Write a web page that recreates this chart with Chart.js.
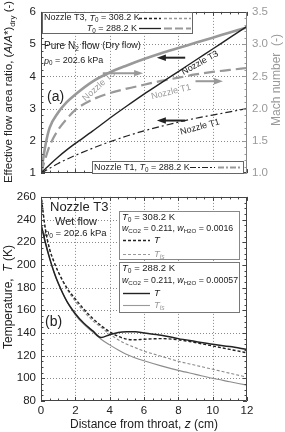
<!DOCTYPE html>
<html>
<head>
<meta charset="utf-8">
<script src="https://cdn.jsdelivr.net/npm/chart.js@4"></script>
<style>
  body { margin: 0; background: #fff; width: 285px; height: 432px; overflow: hidden; position: relative; }
  canvas { position: absolute; left: 0; }
</style>
</head>
<body>
<canvas id="chartA" width="285" height="185" style="top:0px"></canvas>
<canvas id="chartB" width="285" height="247" style="top:185px"></canvas>
<script>
/* ---------------- data: panel (a), dry flow ---------------- */
const zDry = [0, 0.25, 0.5, 1, 1.5, 2, 3, 4, 5, 6, 7, 8, 9, 10, 11, 12];
const areaT3 = [1, 1.13, 1.26, 1.5, 1.72, 1.92, 2.3, 2.7, 3.08, 3.45, 3.8, 4.15, 4.5, 4.85, 5.2, 5.55];
const areaT1 = [1, 1.07, 1.15, 1.3, 1.43, 1.55, 1.77, 1.97, 2.15, 2.31, 2.45, 2.58, 2.7, 2.8, 2.9, 3.0];
const machT3 = [1.0, 1.42, 1.7, 1.94, 2.1, 2.22, 2.42, 2.56, 2.67, 2.77, 2.86, 2.94, 3.02, 3.1, 3.18, 3.26];
const machT1 = [1.0, 1.22, 1.42, 1.67, 1.84, 1.98, 2.14, 2.24, 2.31, 2.37, 2.43, 2.48, 2.53, 2.57, 2.6, 2.63];

/* ---------------- data: panel (b), wet flow ---------------- */
const zWet = [0, 0.25, 0.5, 0.75, 1, 1.5, 2, 2.5, 3, 3.5, 4, 4.5, 5, 5.5, 6, 7, 8, 9, 10, 11, 12];
const T288 = [236, 220, 206, 194, 184, 168, 157, 148.5, 142, 136, 138.5, 140.5, 141, 141, 140, 138, 135, 132.5, 130, 128, 125.5];
const Tis288 = [236, 220, 206, 194, 184, 168, 156, 147.5, 141, 134.5, 129.5, 125, 121, 118, 115.5, 111, 107, 103.5, 100, 97, 94];
const T308 = [262, 232, 214, 203, 194, 180, 170, 161, 153, 146.5, 141, 137, 134.5, 134, 134.5, 135, 134, 131.5, 128.5, 125.5, 122.5];
const Tis308 = [262, 232, 214, 203, 194, 179, 168, 159, 151, 145, 139, 134, 130, 127, 124, 119.5, 115, 111.5, 108, 104.5, 101];

const FONT = '"Liberation Sans", Arial, sans-serif';
const INK = '#222';
const GREY = '#999';

function pts(xs, ys) {
  return xs.map((x, i) => ({ x: x, y: ys[i] }));
}

function line(label, xs, ys, color, width, dash, axis) {
  return {
    label: label,
    data: pts(xs, ys),
    borderColor: color,
    borderWidth: width,
    borderDash: dash,
    pointRadius: 0,
    cubicInterpolationMode: 'monotone',
    yAxisID: axis || 'y',
  };
}

/* ---------------- drawing helpers ---------------- */
// parts: [{t, i (italic), s (subscript), size}]
function rich(ctx, x, y, parts, o) {
  o = o || {};
  const size = o.size || 9;
  let w = 0;
  const segs = parts.map(p => {
    const base = p.size || size;
    const s = p.s ? base * 0.7 : base;
    const f = (p.i ? 'italic ' : '') + s + 'px ' + FONT;
    ctx.font = f;
    const ww = ctx.measureText(p.t).width;
    w += ww;
    return { p: p, f: f, ww: ww, base: base };
  });
  ctx.save();
  ctx.translate(x, y);
  if (o.angle) ctx.rotate(o.angle * Math.PI / 180);
  let cx = o.align === 'center' ? -w / 2 : o.align === 'right' ? -w : 0;
  ctx.fillStyle = o.color || INK;
  ctx.textBaseline = 'middle';
  segs.forEach(sg => {
    ctx.font = sg.f;
    ctx.fillText(sg.p.t, cx, sg.p.s ? sg.base * 0.3 : 0);
    cx += sg.ww;
  });
  ctx.restore();
}
const n = t => ({ t: t });
const it = t => ({ t: t, i: true });
const sb = t => ({ t: t, s: true });

function seg(ctx, x1, y1, x2, y2, color, width, dash) {
  ctx.save();
  ctx.strokeStyle = color;
  ctx.lineWidth = width;
  ctx.setLineDash(dash || []);
  ctx.beginPath();
  ctx.moveTo(x1, y1);
  ctx.lineTo(x2, y2);
  ctx.stroke();
  ctx.restore();
}

function arrow(ctx, x1, y, x2, color) {
  const dir = x2 > x1 ? 1 : -1;
  seg(ctx, x1, y, x2 - dir * 6, y, color, 2);
  ctx.save();
  ctx.fillStyle = color;
  ctx.beginPath();
  ctx.moveTo(x2, y);
  ctx.lineTo(x2 - dir * 9, y - 3.2);
  ctx.lineTo(x2 - dir * 9, y + 3.2);
  ctx.closePath();
  ctx.fill();
  ctx.restore();
}

function box(ctx, x, y, w, h, color) {
  ctx.save();
  ctx.fillStyle = '#fff';
  ctx.fillRect(x, y, w, h);
  ctx.strokeStyle = color;
  ctx.lineWidth = 1;
  ctx.strokeRect(x, y, w, h);
  ctx.restore();
}

// dotted grid, positioned by the chart scales
function grid(chart, xMajor, yMajor) {
  const ctx = chart.ctx;
  const a = chart.chartArea;
  const sx = chart.scales.x, sy = chart.scales.y;
  for (let v = sx.min + xMajor; v < sx.max - 1e-6; v += xMajor) {
    const p = Math.round(sx.getPixelForValue(v)) + 0.5;
    seg(ctx, p, a.top, p, a.bottom, '#8a8a8a', 1, [1, 2]);
  }
  for (let v = sy.min + yMajor; v < sy.max - 1e-6; v += yMajor) {
    const p = Math.round(sy.getPixelForValue(v)) + 0.5;
    seg(ctx, a.left, p, a.right, p, '#8a8a8a', 1, [1, 2]);
  }
}

// inward ticks and frame
function ticks(chart, xMajor, xMinor, yMajor, yMinor, right) {
  const ctx = chart.ctx;
  const a = chart.chartArea;
  const sx = chart.scales.x, sy = chart.scales.y;
  for (let v = sx.min; v <= sx.max + 1e-6; v += xMinor) {
    const p = Math.round(sx.getPixelForValue(v)) + 0.5;
    const major = Math.abs(v / xMajor - Math.round(v / xMajor)) < 1e-6;
    const L = major ? 4 : 2.5;
    seg(ctx, p, a.bottom, p, a.bottom - L, '#444', 1);
    seg(ctx, p, a.top, p, a.top + L, '#444', 1);
  }
  for (let v = sy.min; v <= sy.max + 1e-6; v += yMinor) {
    const p = Math.round(sy.getPixelForValue(v)) + 0.5;
    const major = Math.abs((v - sy.min) / yMajor - Math.round((v - sy.min) / yMajor)) < 1e-6;
    const L = major ? 4 : 2.5;
    seg(ctx, a.left, p, a.left + L, p, '#444', 1);
    if (!right) seg(ctx, a.right, p, a.right - L, p, '#444', 1);
  }
  if (right) {
    const s2 = chart.scales[right.id];
    for (let v = s2.min; v <= s2.max + 1e-6; v += right.minor) {
      const p = Math.round(s2.getPixelForValue(v)) + 0.5;
      const major = Math.abs((v - s2.min) / right.major - Math.round((v - s2.min) / right.major)) < 1e-6;
      seg(ctx, a.right, p, a.right - (major ? 4 : 2.5), p, GREY, 1);
    }
  }
  const l = Math.round(a.left) + 0.5, r = Math.round(a.right) - 0.5;
  const t = Math.round(a.top) + 0.5, b = Math.round(a.bottom) - 0.5;
  seg(ctx, l, t, r, t, '#444', 1);
  seg(ctx, l, b, r, b, '#444', 1);
  seg(ctx, l, t, l, b, '#444', 1);
  seg(ctx, r, t, r, b, right ? '#888' : '#444', 1);
}

/* ---------------- panel (a) ---------------- */
const panelA = {
  id: 'panelA',
  beforeDatasetsDraw(chart) {
    grid(chart, 2, 1);
  },
  afterDatasetsDraw(chart) {
    const ctx = chart.ctx;
    const sx = chart.scales.x, sy = chart.scales.y;
    ticks(chart, 2, 0.5, 1, 0.2, { id: 'y2', major: 0.5, minor: 0.1 });

    // arrows pointing to the axis each curve belongs to
    arrow(ctx, sx.getPixelForValue(8.4), sy.getPixelForValue(4.58), sx.getPixelForValue(6.75), INK);
    arrow(ctx, sx.getPixelForValue(3.6), sy.getPixelForValue(4.1), sx.getPixelForValue(5.95), GREY);
    arrow(ctx, sx.getPixelForValue(9.0), sy.getPixelForValue(3.85), sx.getPixelForValue(10.6), GREY);
    arrow(ctx, sx.getPixelForValue(8.4), sy.getPixelForValue(2.63), sx.getPixelForValue(6.75), INK);

    // curve labels
    rich(ctx, 99, 86, [n('Nozzle T3')], { align: 'center', angle: -42, color: GREY, size: 9 });
    rich(ctx, 200, 63, [n('Nozzle T3')], { align: 'center', angle: -29, size: 9 });
    rich(ctx, 171, 92, [n('Nozzle T1')], { align: 'center', angle: -14, color: GREY, size: 9 });
    rich(ctx, 200, 127, [n('Nozzle T1')], { align: 'center', angle: -15, size: 9 });

    // top legend
    box(ctx, 42.5, 12.5, 150, 21, '#666');
    rich(ctx, 44, 18, [n('Nozzle T3, '), it('T'), sb('0'), n(' = 308.2 K')], { size: 9 });
    seg(ctx, 139, 18.5, 161, 18.5, INK, 1.3, [3, 2]);
    seg(ctx, 164, 18.5, 191, 18.5, GREY, 1.5, [3, 2]);
    rich(ctx, 137, 28.5, [it('T'), sb('0'), n(' = 288.2 K')], { size: 9, align: 'right' });
    seg(ctx, 139, 28.5, 161, 28.5, INK, 1.3);
    seg(ctx, 164, 28.5, 191, 28.5, GREY, 1.8, [8, 3]);

    rich(ctx, 44, 46, [n('Pure N'), sb('2'), n(' flow '), { t: '(Dry flow)', size: 9 }], { size: 10 });
    rich(ctx, 44, 61, [it('p'), sb('0'), n(' = 202.6 kPa')], { size: 9 });
    rich(ctx, 47, 97, [n('(a)')], { size: 14 });

    // bottom legend
    box(ctx, 92.5, 161.5, 151, 12, '#666');
    rich(ctx, 94, 167.5, [n('Nozzle T1, '), it('T'), sb('0'), n(' = 288.2 K')], { size: 9 });
    seg(ctx, 190, 167.5, 215, 167.5, INK, 1.2, [6, 2, 2, 2]);
    seg(ctx, 218, 167.5, 242, 167.5, GREY, 1.8, [6, 2, 2, 2]);

    // axis titles
    rich(ctx, 9, 92, [n('Effective flow area ratio, ('), it('A'), n('/'), it('A'), n('*)'), sb('dry'), n(' (-)')],
      { size: 11.5, angle: -90, align: 'center' });
    rich(ctx, 277, 80, [n('Mach number  (-)')], { size: 12, angle: -90, align: 'center', color: GREY });
  },
};

new Chart(document.getElementById('chartA'), {
  type: 'line',
  data: {
    datasets: [
      line('A/A* T3', zDry, areaT3, INK, 1.4, []),
      line('A/A* T1', zDry, areaT1, INK, 1.2, [7, 3, 2, 3]),
      line('Mach T3', zDry, machT3, GREY, 2.6, [], 'y2'),
      line('Mach T1', zDry, machT1, GREY, 2.2, [11, 5], 'y2'),
    ],
  },
  options: {
    responsive: false,
    animation: false,
    devicePixelRatio: 1,
    layout: { padding: { top: 10, left: 0, right: 0, bottom: 0 } },
    plugins: { legend: { display: false }, tooltip: { enabled: false } },
    scales: {
      x: {
        type: 'linear', min: 0, max: 12,
        ticks: { display: false },
        grid: { display: false, drawTicks: false },
        border: { display: false },
        afterFit(s) { s.height = 9; },
      },
      y: {
        position: 'left', min: 1, max: 6,
        ticks: { stepSize: 1, padding: 5, color: INK, font: { family: FONT, size: 11.5 } },
        grid: { display: false, drawTicks: false },
        border: { display: false },
        afterFit(s) { s.width = 41; },
      },
      y2: {
        position: 'right', min: 1, max: 3.5,
        ticks: { stepSize: 0.5, padding: 5, color: GREY, font: { family: FONT, size: 11.5 },
          callback: v => v.toFixed(1) },
        grid: { display: false, drawTicks: false },
        border: { display: false },
        afterFit(s) { s.width = 38; },
      },
    },
  },
  plugins: [panelA],
});

/* ---------------- panel (b) ---------------- */
const panelB = {
  id: 'panelB',
  beforeDatasetsDraw(chart) {
    grid(chart, 2, 20);
  },
  afterDatasetsDraw(chart) {
    const ctx = chart.ctx;
    ticks(chart, 2, 0.5, 20, 5, null);

    rich(ctx, 50, 22, [n('Nozzle T3')], { size: 13 });
    rich(ctx, 76, 36.5, [n('Wet flow')], { size: 11, align: 'center' });
    rich(ctx, 44, 48.5, [it('p'), sb('0'), n(' = 202.6 kPa')], { size: 9.5 });
    rich(ctx, 45, 137, [n('(b)')], { size: 14 });

    box(ctx, 119.5, 26.5, 120, 48, '#888');
    rich(ctx, 122, 32.5, [it('T'), sb('0'), n(' = 308.2 K')], { size: 9.5 });
    rich(ctx, 122, 44, [it('w'), sb('CO2'), n(' = 0.211, '), it('w'), sb('H2O'), n(' = 0.0016')], { size: 8.8 });
    seg(ctx, 123, 55.5, 150, 55.5, INK, 1.3, [3, 2]);
    rich(ctx, 154, 55.5, [it('T')], { size: 9.5 });
    seg(ctx, 123, 69.5, 150, 69.5, GREY, 1, [3, 2]);
    rich(ctx, 154, 69.5, [it('T'), { t: 'is', s: true, i: true }], { size: 9.5, color: GREY });

    box(ctx, 119.5, 77.5, 120, 50, '#777');
    rich(ctx, 122, 83.5, [it('T'), sb('0'), n(' = 288.2 K')], { size: 9.5 });
    rich(ctx, 122, 95.5, [it('w'), sb('CO2'), n(' = 0.211, '), it('w'), sb('H2O'), n(' = 0.00057')], { size: 8.8 });
    seg(ctx, 123, 108.5, 150, 108.5, INK, 1.4);
    rich(ctx, 154, 108.5, [it('T')], { size: 9.5 });
    seg(ctx, 123, 120.5, 150, 120.5, GREY, 1.1);
    rich(ctx, 154, 120.5, [it('T'), { t: 'is', s: true, i: true }], { size: 9.5, color: GREY });

    rich(ctx, 9, 112, [n('Temperature,  '), it('T'), n(' (K)')], { size: 12, angle: -90, align: 'center' });
    rich(ctx, 144, 240, [n('Distance from throat, '), it('z'), n(' (cm)')], { size: 12, align: 'center' });
  },
};

new Chart(document.getElementById('chartB'), {
  type: 'line',
  data: {
    datasets: [
      line('T 288.2 K', zWet, T288, INK, 1.5, []),
      line('T 308.2 K', zWet, T308, INK, 1.4, [3, 2]),
      line('Tis 288.2 K', zWet, Tis288, '#8c8c8c', 1.1, []),
      line('Tis 308.2 K', zWet, Tis308, '#8c8c8c', 1.1, [3, 2]),
    ],
  },
  options: {
    responsive: false,
    animation: false,
    devicePixelRatio: 1,
    layout: { padding: { top: 8, left: 0, right: 38, bottom: 0 } },
    plugins: { legend: { display: false }, tooltip: { enabled: false } },
    scales: {
      x: {
        type: 'linear', min: 0, max: 12,
        ticks: { stepSize: 2, padding: 3, color: INK, font: { family: FONT, size: 11.5 } },
        grid: { display: false, drawTicks: false },
        border: { display: false },
        afterFit(s) { s.height = 31; },
      },
      y: {
        position: 'left', min: 80, max: 260,
        ticks: { stepSize: 20, padding: 5, color: INK, font: { family: FONT, size: 11.5 } },
        grid: { display: false, drawTicks: false },
        border: { display: false },
        afterFit(s) { s.width = 41; },
      },
    },
  },
  plugins: [panelB],
});
</script>
</body>
</html>
